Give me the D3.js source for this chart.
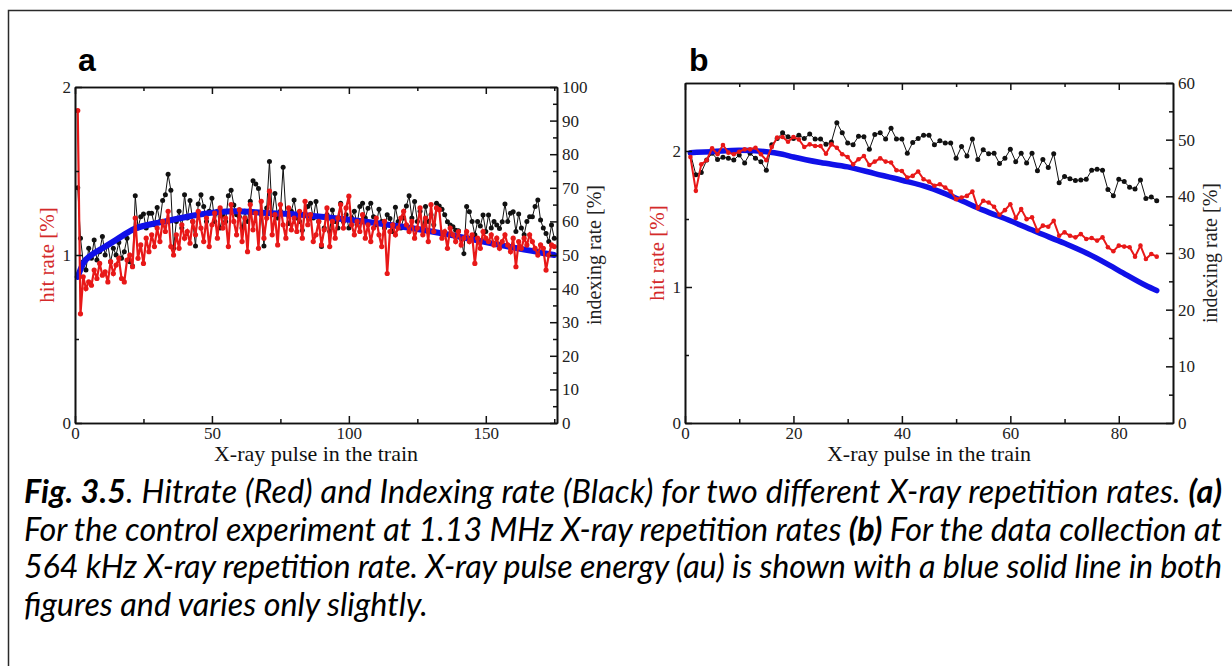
<!DOCTYPE html>
<html><head><meta charset="utf-8">
<script src="https://cdn.jsdelivr.net/npm/d3@7"></script>
<style>body{margin:0;background:#fff}svg{display:block}</style>
</head><body>
<svg id="c" width="1232" height="666"></svg>
<script>
// ---------- DATA ----------
// Panel a: pulse 1..175
const hitRateA = [
1.86,0.65,0.87,0.80,0.84,0.82,0.91,0.86,0.95,0.88,
0.90,0.84,0.96,0.89,0.94,0.98,0.86,0.84,0.97,1.00,
0.93,1.22,0.98,1.06,0.95,1.10,1.02,1.12,1.05,1.16,
1.08,1.20,1.14,1.26,1.05,1.00,1.12,1.04,1.18,1.10,
1.14,1.07,1.20,1.12,1.26,1.16,1.08,1.22,1.05,1.18,
1.25,1.10,1.28,1.16,1.22,1.05,1.30,1.20,1.12,1.27,
1.08,1.22,1.02,1.30,1.15,1.25,1.04,1.32,1.10,1.22,
1.38,1.12,1.24,1.06,1.30,1.18,1.10,1.28,1.15,1.22,
1.14,1.26,1.10,1.32,1.18,1.24,1.08,1.12,1.20,1.06,
1.15,1.28,1.05,1.20,1.10,1.22,1.30,1.16,1.28,1.35,
1.18,1.12,1.20,1.14,1.24,1.10,1.18,1.08,1.16,1.22,
1.12,1.05,1.20,0.89,1.14,1.18,1.12,1.16,1.22,1.26,
1.18,1.14,1.20,1.10,1.16,1.28,1.12,1.22,1.08,1.30,
1.14,1.28,1.27,1.10,1.14,1.04,1.16,1.12,1.08,1.14,
1.06,1.10,1.14,1.08,1.12,0.95,1.10,1.04,1.14,1.10,
1.08,1.12,1.06,1.10,1.04,1.08,1.12,1.06,1.02,1.10,
0.93,1.08,1.04,1.10,1.06,1.12,1.08,1.04,1.00,1.06,
1.04,0.91,1.00,1.06,1.05];
const indexRateA = [
70,55,48,45.5,52,49,54.5,48.5,51,55.5,
50,53,48,52,50,53.7,49,51,55,48,
46.7,67.6,58,61.4,62.2,58,62.4,62.4,59,64.1,
60,66.2,67.9,74.0,69.3,52.0,60,63,58,67.9,
61,66.2,60,52.7,65.2,67.9,64.4,60,63,66.9,
60,63,58,62,60,67.6,69.3,64.9,62,61.4,
58,63,60,66,72.1,71.1,69.8,62,52.7,64,
77.8,62,68.3,61,63,76.1,62.4,59.4,63,66.4,
61,60,57.4,62,64.4,65.4,61,65.9,60,52.5,
58,62,57,63.4,60,58,65.4,60,62,58,
61,63,59,64.4,65.4,61,63.9,65.4,61.4,59,
63.6,60,58,62,60.9,57,64.2,60,58,61,
64.6,67.6,61,65.9,60,63,58,64.4,60,62,
59,65.4,64.6,63.6,62,59.9,58.9,58.4,57.4,57.2,
55,50.4,64.4,62.9,60,56,60,58.6,61.9,57,
61.9,58,60,58.9,57.9,59.9,65.2,60,62.4,62.9,
57,62.2,58,56,60,61.4,61.4,64.4,66.4,60.4,
58,56.4,54,58.9,55];
const energyPulseA = [1,3,6,10,15,21,33,45,58,70,82,100,119,137,155,175];
const energyA      = [0.87,0.95,1.00,1.04,1.09,1.15,1.20,1.24,1.26,1.25,1.24,1.21,1.17,1.12,1.06,1.00];

// Panel b: pulse 1..87
const hitRateB = [
1.956,1.707,1.902,1.932,2.020,1.976,2.044,1.988,1.976,1.995,
2.012,2.012,2.024,1.976,1.932,2.029,2.098,2.103,2.068,2.103,
2.085,2.029,2.049,2.037,2.037,1.980,2.049,2.024,1.976,1.956,
1.902,1.939,1.963,1.897,1.922,1.946,1.922,1.915,1.858,1.853,
1.805,1.817,1.849,1.792,1.775,1.744,1.756,1.731,1.702,1.646,
1.658,1.670,1.702,1.580,1.634,1.621,1.590,1.531,1.565,1.609,
1.507,1.573,1.499,1.512,1.414,1.451,1.443,1.487,1.377,1.402,
1.377,1.365,1.389,1.353,1.360,1.341,1.365,1.292,1.263,1.304,
1.297,1.292,1.223,1.304,1.206,1.243,1.223];
const indexRateB = [
47.6,43.8,44.2,46.4,47.6,46.5,46.9,46.7,46.4,47.3,
45.9,47.6,46.7,46.1,44.6,49.1,50.2,51.2,50.5,50.2,
50.8,50.2,51.0,50.1,50.1,49.2,49.6,53.0,51.2,49.4,
49.1,50.6,50.5,48.3,50.9,51.2,50.1,52.0,50.1,50.1,
47.6,49.5,50.2,50.8,50.8,49.1,49.8,49.4,49.4,46.7,
48.8,47.1,50.1,46.5,48.2,47.5,47.6,45.8,46.7,48.3,
46.1,47.6,45.9,47.6,44.5,46.5,45.1,47.5,42.4,43.5,
43.1,42.8,42.9,43.0,44.6,44.8,44.6,41.2,40.1,43.0,
42.6,41.6,41.3,42.9,39.6,39.9,39.2];
const energyPulseB = [1,5,10,15,18,20,25,30,35,40,45,50,55,60,65,70,75,80,85,87];
const energyB      = [1.988,1.995,2.005,1.995,1.976,1.956,1.915,1.883,1.834,1.785,1.731,1.653,1.565,1.487,1.402,1.321,1.231,1.121,1.011,0.974];

// Ticks
const xMajorA = [0,50,100,150], xMinorA = [25,75,125,175];
const yMajorA = [0,1,2], yMinorA = [0.5,1.5];
const rMajorA = [0,10,20,30,40,50,60,70,80,90,100], rMinorA = [5,15,25,35,45,55,65,75,85,95];
const xMajorB = [0,20,40,60,80], xMinorB = [10,30,50,70];
const yMajorB = [0,1,2], yMinorB = [0.5,1.5];
const rMajorB = [0,10,20,30,40,50,60], rMinorB = [5,15,25,35,45,55];

// Text
const panelLabels = ["a","b"];
const xTitle = "X-ray pulse in the train";
const yLeftTitle = "hit rate [%]";
const yRightTitle = "indexing rate [%]";
const captionLines = [
  [["Fig. 3.5",1],[". Hitrate (Red) and Indexing rate (Black) for two different X-ray repetition rates. ",0],["(a)",1]],
  [["For the control experiment at 1.13 MHz X-ray repetition rates ",0],["(b)",1],[" For the data collection at",0]],
  [["564 kHz X-ray repetition rate. X-ray pulse energy (au) is shown with a blue solid line in both",0]],
  [["figures and varies only slightly.",0]]
];

// ---------- DRAW ----------
const svg = d3.select("#c");
svg.append("rect").attr("x",8.5).attr("y",10.5).attr("width",1240).attr("height",700)
  .attr("fill","none").attr("stroke","#2a2a2a").attr("stroke-width",1.5);

const panels = [
  {label:panelLabels[0], L:75, R:557, T:87, B:423, xd:[0,176], yd:[0,2], rd:[0,100],
   hit:hitRateA, idx:indexRateA, ep:energyPulseA, e:energyA,
   xM:xMajorA, xm:xMinorA, yM:yMajorA, ym:yMinorA, rM:rMajorA, rm:rMinorA,
   labX:78, blueW:6, redW:2.2, redR:2.6},
  {label:panelLabels[1], L:685, R:1173, T:83, B:423, xd:[0,90], yd:[0,2.5], rd:[0,60],
   hit:hitRateB, idx:indexRateB, ep:energyPulseB, e:energyB,
   xM:xMajorB, xm:xMinorB, yM:yMajorB, ym:yMinorB, rM:rMajorB, rm:rMinorB,
   labX:689, blueW:5.5, redW:2, redR:2.3}
];

const serif = "'Liberation Serif','Times New Roman',serif";

panels.forEach(p=>{
  const g = svg.append("g");
  const x = d3.scaleLinear().domain(p.xd).range([p.L,p.R]);
  const y = d3.scaleLinear().domain(p.yd).range([p.B,p.T]);
  const r = d3.scaleLinear().domain(p.rd).range([p.B,p.T]);

  const idxPts = p.idx.map((v,i)=>[i+1,v]);
  const hitPts = p.hit.map((v,i)=>[i+1,v]);
  const ePts = p.ep.map((v,i)=>[v,p.e[i]]);

  const lineR = d3.line().x(d=>x(d[0])).y(d=>r(d[1]));
  const lineY = d3.line().x(d=>x(d[0])).y(d=>y(d[1]));
  const lineE = d3.line().x(d=>x(d[0])).y(d=>y(d[1])).curve(d3.curveMonotoneX);

  g.append("path").attr("d",lineR(idxPts)).attr("fill","none").attr("stroke","#111").attr("stroke-width",1);
  g.selectAll(".bk").data(idxPts).join("circle").attr("cx",d=>x(d[0])).attr("cy",d=>r(d[1])).attr("r",2.5).attr("fill","#111");

  g.append("path").attr("d",lineE(ePts)).attr("fill","none").attr("stroke","#1010e8").attr("stroke-width",p.blueW).attr("stroke-linecap","round");

  g.append("path").attr("d",lineY(hitPts)).attr("fill","none").attr("stroke","#e81818").attr("stroke-width",p.redW);
  g.selectAll(".rd").data(hitPts).join("circle").attr("cx",d=>x(d[0])).attr("cy",d=>y(d[1])).attr("r",p.redR).attr("fill","#e81818");

  const ax = (gen, tx, ty, vals, size, fmt, pad) => {
    const a = gen.tickValues(vals).tickSizeInner(-size).tickSizeOuter(0).tickPadding(pad);
    if(!fmt) a.tickFormat(""); else a.tickFormat(d3.format("d"));
    const s = g.append("g").attr("transform",`translate(${tx},${ty})`).call(a);
    s.select(".domain").attr("stroke","#111").attr("stroke-width",1.6);
    s.selectAll(".tick line").attr("stroke","#111").attr("stroke-width",1.5);
    s.selectAll("text").attr("font-family",serif).attr("font-size",17).attr("fill","#222");
    return s;
  };
  ax(d3.axisBottom(x), 0, p.B, p.xm, 4, false, 5);
  ax(d3.axisBottom(x), 0, p.B, p.xM, 7, true, 4);
  ax(d3.axisTop(x), 0, p.T, p.xm, 4, false, 4);
  ax(d3.axisTop(x), 0, p.T, p.xM, 7, false, 4);
  ax(d3.axisLeft(y), p.L, 0, p.ym, 4, false, 4);
  ax(d3.axisLeft(y), p.L, 0, p.yM, 7, true, 4);
  ax(d3.axisRight(r), p.R, 0, p.rm, 4, false, 5);
  ax(d3.axisRight(r), p.R, 0, p.rM, 7, true, 5);

  const cy = (p.T+p.B)/2;
  g.append("text").attr("x",(p.L+p.R)/2).attr("y",p.B+38).attr("text-anchor","middle")
    .attr("font-family",serif).attr("font-size",22).attr("fill","#111").text(xTitle);
  g.append("text").attr("transform",`translate(${p.L-21},${cy}) rotate(-90)`).attr("text-anchor","middle")
    .attr("font-family",serif).attr("font-size",21).attr("fill","#d42a2a").text(yLeftTitle);
  g.append("text").attr("transform",`translate(${p.R+44},${cy}) rotate(-90)`).attr("text-anchor","middle")
    .attr("font-family",serif).attr("font-size",20).attr("fill","#222").text(yRightTitle);

  svg.append("text").attr("x",p.labX).attr("y",71).attr("font-family","'Liberation Sans',Arial,sans-serif")
    .attr("font-weight","bold").attr("font-size",32).attr("fill","#000").text(p.label);
});

// caption
const capFont = "Lato,'Open Sans',sans-serif";
const capG = svg.append("g");
let fs = 24;
const texts = captionLines.map((segs,i)=>{
  const t = capG.append("text").attr("x",24).attr("y",503+i*37.7)
    .attr("font-family",capFont).attr("font-style","italic").attr("font-size",fs).attr("fill","#000");
  segs.forEach(s=>t.append("tspan").attr("font-weight",s[1]?"bold":"normal").text(s[0]));
  return t;
});
const w4 = texts[3].node().getComputedTextLength();
fs = fs*404/w4;
texts.forEach((t,i)=>{
  t.attr("font-size",fs);
  if(i<3) t.attr("textLength",1198).attr("lengthAdjust","spacing");
});
</script>
</body></html>
